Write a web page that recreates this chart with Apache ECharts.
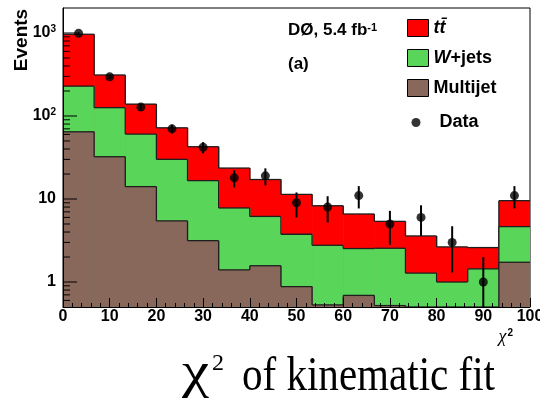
<!DOCTYPE html>
<html>
<head>
<meta charset="utf-8">
<script src="https://cdn.jsdelivr.net/npm/echarts@6/dist/echarts.min.js"></script>
<style>
  html, body { margin: 0; padding: 0; background: #fff; }
  #chart { width: 540px; height: 404px; }
</style>
</head>
<body>
<div id="chart"></div>
<script>
// Histogram binning of the kinematic-fit chi2 (15 bins over 0..100)
const binEdges = [0, 6.667, 13.333, 20, 26.667, 33.333, 40, 46.667, 53.333, 60, 66.667, 73.333, 80, 86.667, 93.333, 100];
const binCenters = [3.333, 10, 16.667, 23.333, 30, 36.667, 43.333, 50, 56.667, 63.333, 70, 76.667, 83.333, 90, 96.667];

// Expected event counts per bin, per process (stacked bottom to top)
const multijet = [64.5, 32.3, 14.1, 5.45, 3.15, 1.40, 1.57, 0.88, 0.53, 0.69, 0.52, 0.30, 0.25, 0.30, 1.73];
const wjets    = [164.5, 93.7, 46.4, 24.6, 13.5, 6.4, 4.6, 2.88, 2.24, 1.84, 2.03, 0.98, 0.75, 1.14, 2.92];
const ttbar    = [736, 186, 78.5, 42, 26, 15.8, 11.0, 7.64, 5.53, 4.07, 2.83, 2.31, 1.65, 1.16, 4.9];

// Observed data and statistical uncertainties
const dataCounts = [990, 296, 128, 70, 42, 18, 19, 9, 8, 11, 5, 6, 3, 1, 11];
const dataErrors = [31.5, 17.2, 11.3, 8.4, 6.5, 4.2, 4.4, 3.0, 2.8, 3.3, 2.2, 2.4, 1.7, 1.0, 3.3];

// Axis ticks
const xTickValues = [0, 10, 20, 30, 40, 50, 60, 70, 80, 90, 100];
const yMajorTicks = [1, 10, 100, 1000];
const yMinorTicks = [0.6, 0.7, 0.8, 0.9, 2, 3, 4, 5, 6, 7, 8, 9, 20, 30, 40, 50, 60, 70, 80, 90,
                     200, 300, 400, 500, 600, 700, 800, 900];
const yLabels = { 1: '1', 10: '10', 100: '10{sup|2}', 1000: '10{sup|3}' };

const Y_MIN = 0.5, Y_MAX = 2000;
const X_MIN = 0, X_MAX = 100;
const SANS = 'Liberation Sans, Arial, Helvetica, sans-serif';
const SERIF = 'Liberation Serif, Times New Roman, serif';

const COLORS = { ttbar: '#ff0000', wjets: '#59d65a', multijet: '#88685a' };
const OUTLINE = '#1e1e1e';

const clampY = v => Math.min(Y_MAX, Math.max(Y_MIN, v));

// cumulative stack tops
const topMultijet = multijet.slice();
const topWjets = wjets.map((v, i) => v + topMultijet[i]);
const topTtbar = ttbar.map((v, i) => v + topWjets[i]);

function stepItems(tops) {
  return tops.map((t, i) => [binEdges[i], binEdges[i + 1], t, i > 0 ? tops[i - 1] : Y_MIN]);
}

function renderStep(color) {
  return function (params, api) {
    const x0 = api.value(0), x1 = api.value(1);
    const top = clampY(api.value(2)), prev = clampY(api.value(3));
    const pBase = api.coord([x0, Y_MIN]);
    const pTop = api.coord([x1, top]);
    const pPrev = api.coord([x0, prev]);
    return {
      type: 'group',
      children: [
        { type: 'rect', shape: { x: pBase[0], y: pTop[1], width: pTop[0] - pBase[0] + 0.6, height: pBase[1] - pTop[1] },
          style: { fill: color } },
        { type: 'line', shape: { x1: pBase[0], y1: pTop[1], x2: pTop[0], y2: pTop[1] },
          style: { stroke: OUTLINE, lineWidth: 1.3 } },
        { type: 'line', shape: { x1: pBase[0], y1: pPrev[1], x2: pBase[0], y2: pTop[1] },
          style: { stroke: OUTLINE, lineWidth: 1.3 } }
      ]
    };
  };
}

function stepSeries(name, tops, color, z) {
  return {
    name: name,
    type: 'custom',
    coordinateSystem: 'cartesian2d',
    clip: true,
    z: z,
    itemStyle: { color: color },
    encode: { x: [0, 1], y: 2 },
    data: stepItems(tops),
    renderItem: renderStep(color)
  };
}

const tickItems = yMajorTicks.map(v => [v, 14]).concat(yMinorTicks.map(v => [v, 7]));

const chart = echarts.init(document.getElementById('chart'), null, { renderer: 'canvas' });

chart.setOption({
  animation: false,
  backgroundColor: '#ffffff',
  grid: {
    left: 63, top: 8, right: 10, bottom: 97,
    show: true, borderColor: '#000', borderWidth: 1, backgroundColor: '#ffffff',
    containLabel: false, outerBoundsMode: 'none'
  },
  xAxis: {
    type: 'value', min: X_MIN, max: X_MAX, interval: 10, z: 10,
    axisLine: { show: true, onZero: false, lineStyle: { color: '#000', width: 1 } },
    axisTick: { show: true, inside: true, length: 9, lineStyle: { color: '#000', width: 1 } },
    minorTick: { show: true, splitNumber: 5, length: 4, lineStyle: { color: '#000', width: 1 } },
    splitLine: { show: false },
    minorSplitLine: { show: false },
    axisLabel: {
      margin: 2, color: '#000', fontFamily: SANS, fontWeight: 'bold', fontSize: 16,
      showMinLabel: true, showMaxLabel: true,
      formatter: v => (xTickValues.indexOf(Math.round(v)) >= 0 ? String(Math.round(v)) : '')
    }
  },
  yAxis: {
    type: 'log', logBase: 10, min: Y_MIN, max: Y_MAX, z: 10,
    axisLine: { show: true, onZero: false, lineStyle: { color: '#000', width: 1 } },
    axisTick: { show: false },
    splitLine: { show: false },
    axisLabel: {
      margin: 7, color: '#000', fontFamily: SANS, fontWeight: 'bold', fontSize: 16,
      showMinLabel: false, showMaxLabel: false,
      formatter: v => {
        const k = Math.round(v);
        return (Math.abs(v - k) < 1e-6 * Math.max(1, k) && yLabels[k]) ? yLabels[k] : '';
      },
      rich: {
        sup: { fontFamily: SANS, fontWeight: 'bold', fontSize: 10, verticalAlign: 'top', padding: [0, 0, 8, 0], color: '#000' }
      }
    }
  },
  legend: [
    {
      orient: 'vertical', left: 407, top: 19, padding: 0,
      itemWidth: 21, itemHeight: 17, itemGap: 12, icon: 'rect',
      selectedMode: false,
      itemStyle: { borderColor: '#000', borderWidth: 1 },
      data: ['ttbar', 'wjets', 'multijet'],
      formatter: name => ({ ttbar: '{it|tt\u0304}', wjets: '{it|W}+jets', multijet: 'Multijet' })[name],
      textStyle: {
        color: '#000', fontFamily: SANS, fontWeight: 'bold', fontSize: 18, lineHeight: 17,
        rich: { it: { fontFamily: SANS, fontWeight: 'bold', fontStyle: 'italic', fontSize: 18, lineHeight: 17, color: '#000' } }
      }
    },
    {
      orient: 'vertical', left: 411.5, top: 113.5, padding: 0,
      itemWidth: 9, itemHeight: 9, icon: 'circle',
      selectedMode: false,
      data: ['Data'],
      textStyle: { color: '#000', fontFamily: SANS, fontWeight: 'bold', fontSize: 18, lineHeight: 17, padding: [0, 0, 0, 14] }
    }
  ],
  graphic: [
    {
      type: 'text', left: 288, top: 22, z: 20,
      style: {
        text: '{a|D\u00d8, 5.4 fb}{s|-1}',
        rich: {
          a: { fontFamily: SANS, fontWeight: 'bold', fontSize: 17, fill: '#000' },
          s: { fontFamily: SANS, fontWeight: 'bold', fontSize: 11, fill: '#000', verticalAlign: 'top', padding: [0, 0, 6, 0] }
        }
      }
    },
    {
      type: 'text', left: 288, top: 56, z: 20,
      style: { text: '(a)', font: 'bold 17px ' + SANS, fill: '#000' }
    },
    {
      type: 'text', x: 22, y: 40, rotation: Math.PI / 2, z: 20,
      style: { text: 'Events', font: 'bold 19px ' + SANS, fill: '#000', align: 'center', verticalAlign: 'middle' }
    },
    {
      type: 'text', x: 513, y: 337, z: 20,
      style: {
        text: '{c|\u03c7}{s|2}', align: 'right', verticalAlign: 'middle',
        rich: {
          c: { fontFamily: SERIF, fontStyle: 'italic', fontSize: 18, fill: '#000' },
          s: { fontFamily: SANS, fontWeight: 'bold', fontSize: 10, fill: '#000', verticalAlign: 'top', padding: [0, 0, 8, 1] }
        }
      }
    },
    // caption below the plot: chi, its superscript and the words set separately
    {
      type: 'text', x: 182, y: 374, scaleX: 1.22, z: 20,
      style: { text: '\u03c7', font: '50px ' + SERIF, fill: '#000', align: 'left', verticalAlign: 'middle' }
    },
    {
      type: 'text', x: 212, y: 364, z: 20,
      style: { text: '2', font: '24px ' + SERIF, fill: '#000', align: 'left', verticalAlign: 'middle' }
    },
    {
      type: 'text', x: 242, y: 377, scaleX: 0.855, z: 20,
      style: { text: 'of kinematic fit', font: '48px ' + SERIF, fill: '#000', align: 'left', verticalAlign: 'middle' }
    }
  ],
  series: [
    stepSeries('ttbar', topTtbar, COLORS.ttbar, 2),
    stepSeries('wjets', topWjets, COLORS.wjets, 3),
    stepSeries('multijet', topMultijet, COLORS.multijet, 4),
    {
      name: 'yticks', type: 'custom', coordinateSystem: 'cartesian2d', z: 8, silent: true,
      data: tickItems,
      encode: { y: 0 },
      renderItem: (params, api) => {
        const p = api.coord([X_MIN, api.value(0)]);
        return { type: 'line', shape: { x1: p[0], y1: p[1], x2: p[0] + api.value(1), y2: p[1] },
                 style: { stroke: '#000', lineWidth: 1 } };
      }
    },
    {
      name: 'errors', type: 'custom', coordinateSystem: 'cartesian2d', z: 9, silent: true,
      data: binCenters.map((x, i) => [x, dataCounts[i], dataErrors[i]]),
      encode: { x: 0, y: 1 },
      renderItem: (params, api) => {
        const x = api.value(0), y = api.value(1), e = api.value(2);
        const pLo = api.coord([x, clampY(y - e)]);
        const pHi = api.coord([x, clampY(y + e)]);
        return { type: 'line', shape: { x1: pLo[0], y1: pLo[1], x2: pHi[0], y2: pHi[1] },
                 style: { stroke: '#000', lineWidth: 2 } };
      }
    },
    {
      name: 'Data', type: 'scatter', z: 10,
      symbol: 'circle', symbolSize: 9,
      itemStyle: { color: '#000' },
      data: binCenters.map((x, i) => [x, dataCounts[i]])
    }
  ]
});
</script>
</body>
</html>
